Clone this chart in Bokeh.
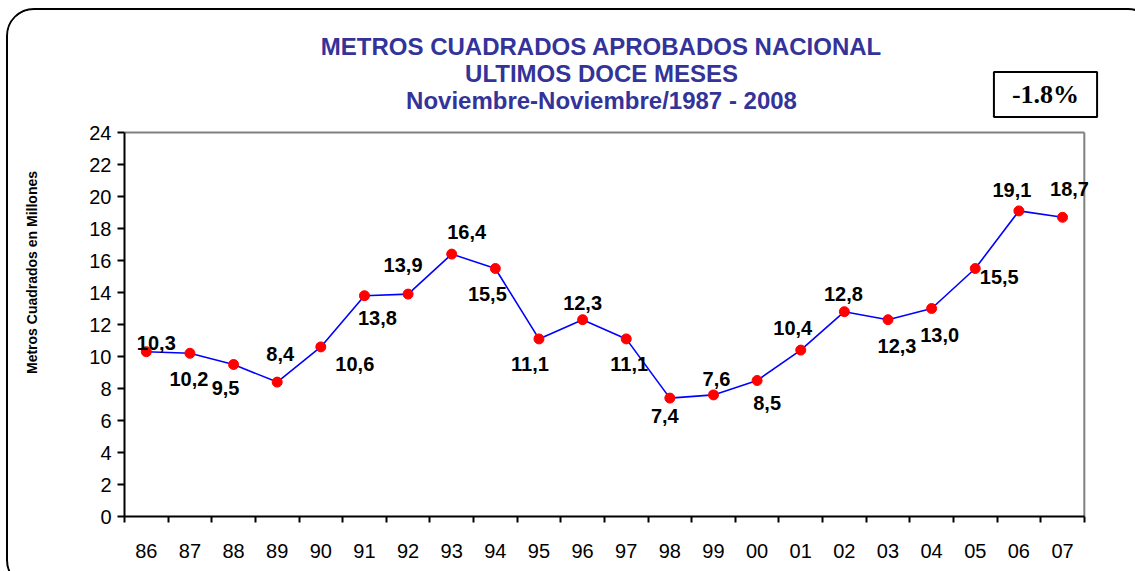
from bokeh.plotting import figure
from bokeh.models import (ColumnDataSource, LabelSet, Label, FixedTicker, Range1d)
from bokeh.core.properties import value
from bokeh.embed import file_html
from bokeh.resources import INLINE

years = ["86", "87", "88", "89", "90", "91", "92", "93", "94", "95", "96",
         "97", "98", "99", "00", "01", "02", "03", "04", "05", "06", "07"]
values = [10.3, 10.2, 9.5, 8.4, 10.6, 13.8, 13.9, 16.4, 15.5, 11.1, 12.3,
          11.1, 7.4, 7.6, 8.5, 10.4, 12.8, 12.3, 13.0, 15.5, 19.1, 18.7]
y_ticks = [0, 2, 4, 6, 8, 10, 12, 14, 16, 18, 20, 22, 24]
title_lines = ["METROS CUADRADOS APROBADOS NACIONAL",
               "ULTIMOS DOCE MESES",
               "Noviembre-Noviembre/1987 - 2008"]
change_text = "-1.8%"
y_label = "Metros Cuadrados en Millones"

# label placement offsets (pixels), styling only
label_dx = [10, -1, -8, 3, 34, 13, -5, 15, -8, -9, 0, 3, -5, 3, 10, -8, -1, 9, 8, 24, -7, 7]
label_dy = [9, -26, -23, 28, -17, -22, 29, 22, -25, -25, 17, -25, -18, 16, -22, 22, 18, -26, -26, -8, 21, 28]

n = len(years)
y_max = y_ticks[-1]
xs = [i + 0.5 for i in range(n)]
src = ColumnDataSource(dict(
    x=xs, y=values,
    txt=[f"{v:.1f}".replace(".", ",") for v in values],
    dx=label_dx, dy=label_dy,
))

FONT = "Liberation Sans"
TITLE_COLOR = "#333399"

# the frame is extended above and right of the plotting area so that the
# heading texts and the percentage box can live inside it
p = figure(width=1150, height=580, output_backend="svg", toolbar_location=None,
           x_range=Range1d(0, n + 0.6), y_range=Range1d(0, y_max + 6.5),
           min_border_left=116, min_border_right=48,
           min_border_top=18, min_border_bottom=74,
           background_fill_color="white", border_fill_color="white")
p.styles = {"border": "2px solid black", "border-radius": "28px",
            "overflow": "hidden", "margin-left": "6px", "margin-top": "8px"}

p.title.visible = False
p.grid.visible = False
p.outline_line_color = None

# grey border of the plotting area (top and right)
p.segment(x0=[0, n], y0=[y_max, 0], x1=[n, n], y1=[y_max, y_max],
          line_color="#808080", line_width=2)

# axes
xa = p.xaxis[0]
xa.bounds = (0, n)
xa.ticker = FixedTicker(ticks=xs, minor_ticks=list(range(n + 1)))
xa.major_label_overrides = {x: yr for x, yr in zip(xs, years)}
xa.major_tick_out = 0
xa.major_tick_in = 0
xa.minor_tick_out = 6
xa.minor_tick_in = 0
xa.axis_line_width = 2
xa.axis_line_color = "black"
xa.minor_tick_line_width = 2
xa.major_label_standoff = 21
xa.major_label_text_font = FONT
xa.major_label_text_font_size = "20px"
xa.major_label_text_color = "black"

ya = p.yaxis[0]
ya.bounds = (0, y_max)
ya.ticker = FixedTicker(ticks=y_ticks, minor_ticks=[])
ya.major_tick_out = 7
ya.major_tick_in = 0
ya.major_tick_line_width = 2
ya.axis_line_width = 2
ya.axis_line_color = "black"
ya.major_label_standoff = 6
ya.major_label_text_font = FONT
ya.major_label_text_font_size = "20px"
ya.major_label_text_color = "black"
ya.axis_label = y_label
ya.axis_label_text_font = FONT
ya.axis_label_text_font_size = "14px"
ya.axis_label_text_font_style = "bold"
ya.axis_label_text_color = "black"
ya.axis_label_standoff = 46

p.line("x", "y", source=src, line_color="#0000FF", line_width=1.6)
p.scatter("x", "y", source=src, size=10, fill_color="#FF0000",
          line_color="#FF0000")

labels = LabelSet(x="x", y="y", text="txt", source=src,
                  x_offset="dx", y_offset="dy",
                  text_align="center", text_baseline="middle",
                  text_font=value(FONT), text_font_size=value("20px"),
                  text_font_style=value("bold"), text_color=value("black"))
p.add_layout(labels)

# heading (screen units: relative to the frame's bottom-left corner)
for line, sy in zip(title_lines, [470, 443, 416]):
    p.add_layout(Label(x=477, y=sy, x_units="screen", y_units="screen",
                       text=line, text_align="center", text_baseline="middle",
                       text_font=FONT, text_font_size="24px",
                       text_font_style="bold", text_color=TITLE_COLOR))

# padding order here: (left, right, top, bottom)
box = Label(x=921, y=422, x_units="screen", y_units="screen",
            text=change_text, text_align="center",
            text_baseline="middle", text_font="Liberation Serif",
            text_font_size="26px", text_font_style="bold",
            text_color="black", border_line_color="black",
            border_line_width=2, background_fill_color="white",
            padding=(18, 18, 8, 8))
p.add_layout(box)

html = file_html(p, INLINE)
html = html.replace("<head>", "<head><style>html, body { overflow: hidden; }</style>", 1)
open("out.html", "w").write(html)
